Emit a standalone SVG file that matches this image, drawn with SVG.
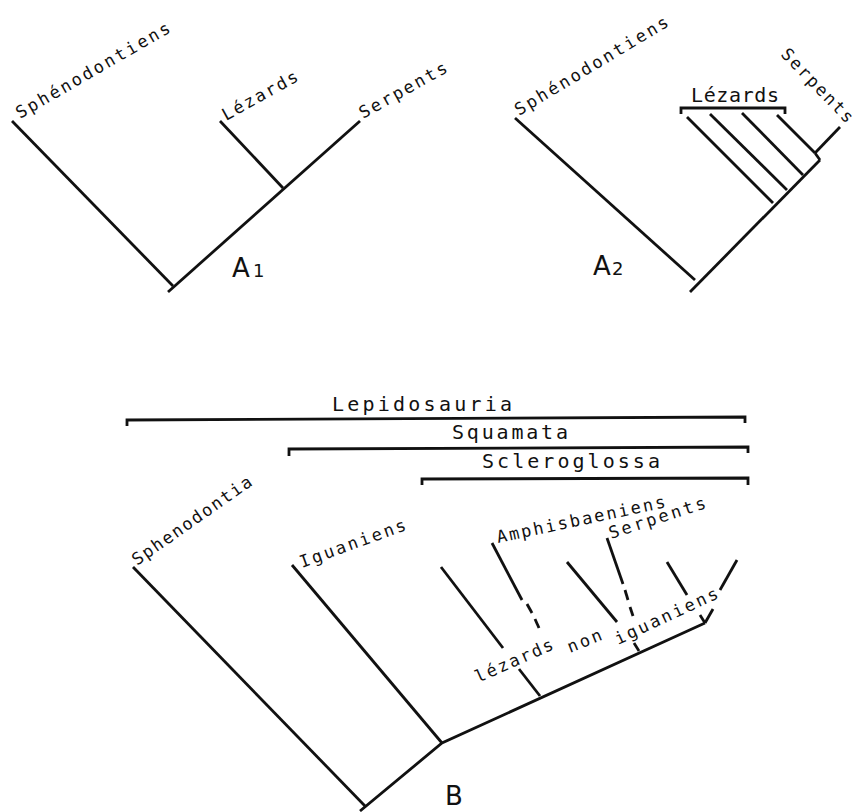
<svg xmlns="http://www.w3.org/2000/svg" width="857" height="812" viewBox="0 0 857 812">
<style>
.ln{stroke:#111;stroke-width:2.8;fill:none;stroke-linecap:butt;stroke-linejoin:miter}
.t{font-family:"DejaVu Sans Mono","Liberation Mono",monospace;font-size:17px;fill:#111}
.h{font-family:"DejaVu Sans Mono","Liberation Mono",monospace;font-size:20px;fill:#111}
.big{font-family:"DejaVu Sans","Liberation Sans",sans-serif;font-size:26px;fill:#111}
.sub{font-family:"DejaVu Sans","Liberation Sans",sans-serif;font-size:18px;fill:#111}
</style>
<rect width="857" height="812" fill="#fff"/>
<g id="connectors">
  <path class="ln" d="M12,121 L173,286"/>
  <path class="ln" d="M360,121 L168,292"/>
  <path class="ln" d="M220,121 L283,188"/>
  <path class="ln" d="M515,118 L695,280"/>
  <path class="ln" d="M820,160 L690,292"/>
  <path class="ln" d="M815,153 L820,160"/>
  <path class="ln" d="M815,153 L840,127"/>
  <path class="ln" d="M687,117 L773,203"/>
  <path class="ln" d="M710,114 L787,190"/>
  <path class="ln" d="M742,113 L803,175"/>
  <path class="ln" d="M777,115 L815,153"/>
  <path class="ln" d="M681,114 L681,108 L785,108 L785,114"/>
  <path class="ln" d="M127,426 L127,420 L745,417 L745,423"/>
  <path class="ln" d="M289,456 L289,449 L748,447 L748,453"/>
  <path class="ln" d="M422,485 L422,479 L748,478 L748,485"/>
  <path class="ln" d="M133,567 L365,806"/>
  <path class="ln" d="M705,623 L442,743 L360,811"/>
  <path class="ln" d="M292,565 L442,743"/>
  <path class="ln" d="M441,567 L503,648"/>
  <path class="ln" d="M519,669 L540,696"/>
  <path class="ln" d="M492,543 L522,600"/>
  <path class="ln" d="M527,604 L532,613"/>
  <path class="ln" d="M535,619 L539,628"/>
  <path class="ln" d="M567,562 L617,622"/>
  <path class="ln" d="M634,643 L639,651"/>
  <path class="ln" d="M607,538 L623,584"/>
  <path class="ln" d="M625,590 L628,600"/>
  <path class="ln" d="M630,607 L633,616"/>
  <path class="ln" d="M667,562 L687,595"/>
  <path class="ln" d="M700,615 L705,623"/>
  <path class="ln" d="M705,623 L713,609"/>
  <path class="ln" d="M720,590 L737,560"/>
</g>
<g id="A1">
  <text class="t" transform="translate(20,119) rotate(-30)" textLength="175" lengthAdjust="spacing">Sphénodontiens</text>
  <text class="t" transform="translate(226,121) rotate(-29)" textLength="84" lengthAdjust="spacing">Lézards</text>
  <text class="t" transform="translate(363,119) rotate(-29)" textLength="98" lengthAdjust="spacing">Serpents</text>
  <text class="big" x="232" y="277">A</text><text class="sub" x="253" y="277">1</text>
</g>
<g id="A2">
  <text class="t" transform="translate(519,116) rotate(-31)" textLength="176" lengthAdjust="spacing">Sphénodontiens</text>
  <text class="h" x="691" y="102" textLength="88" lengthAdjust="spacing">Lézards</text>
  <text class="t" transform="translate(780,55) rotate(46)" textLength="96" lengthAdjust="spacing">Serpents</text>
  <text class="big" x="593" y="275">A</text><text class="sub" x="612" y="275">2</text>
</g>
<g id="B">
  <text class="h" x="332" y="411" textLength="180" lengthAdjust="spacing">Lepidosauria</text>
  <text class="h" x="452" y="439" textLength="116" lengthAdjust="spacing">Squamata</text>
  <text class="h" x="482" y="468" textLength="178" lengthAdjust="spacing">Scleroglossa</text>
  <text class="t" transform="translate(137,566) rotate(-35)" textLength="142" lengthAdjust="spacing">Sphenodontia</text>
  <text class="t" transform="translate(302,568) rotate(-20)" textLength="112" lengthAdjust="spacing">Iguaniens</text>
  <text class="t" transform="translate(498,543) rotate(-12)" textLength="172" lengthAdjust="spacing">Amphisbaeniens</text>
  <text class="t" transform="translate(611,539) rotate(-18)" textLength="101" lengthAdjust="spacing">Serpents</text>
  <text class="t" transform="translate(478,683) rotate(-24)" textLength="84" lengthAdjust="spacing">lézards</text>
  <text class="t" transform="translate(570,653) rotate(-22)" textLength="36" lengthAdjust="spacing">non</text>
  <text class="t" transform="translate(618,645) rotate(-25)" textLength="112" lengthAdjust="spacing">iguaniens</text>
  <text class="big" x="445" y="805">B</text>
</g>
</svg>
